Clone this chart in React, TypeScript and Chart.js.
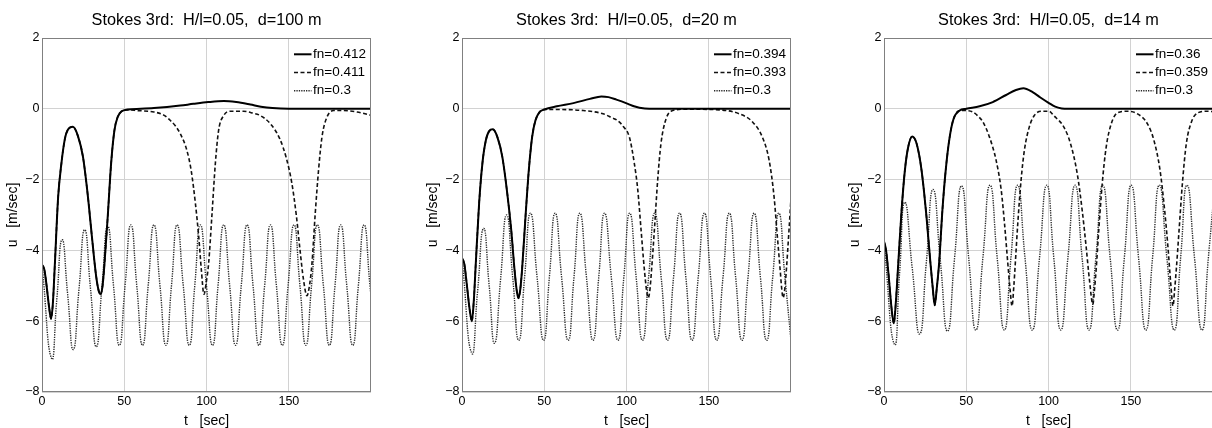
import React, { useEffect, useRef } from "react";
import { Chart, registerables } from "chart.js";

Chart.register(...registerables);

type Pt = [number, number];

const FONT = "'Liberation Sans', Arial, Helvetica, sans-serif";

const xTicks = [0, 50, 100, 150];
const yTicks = [-8, -6, -4, -2, 0, 2];
const xLabel = "t   [sec]";
const yLabel = "u   [m/sec]";

const titleD100 = "Stokes 3rd:  H/l=0.05,  d=100 m";
const titleD20 = "Stokes 3rd:  H/l=0.05,  d=20 m";
const titleD14 = "Stokes 3rd:  H/l=0.05,  d=14 m";

const labelsD100 = ["fn=0.412", "fn=0.411", "fn=0.3"];
const labelsD20 = ["fn=0.394", "fn=0.393", "fn=0.3"];
const labelsD14 = ["fn=0.36", "fn=0.359", "fn=0.3"];

// ---------- d = 100 m ----------
const d100Solid: Pt[] = [
  [0, -4.4], [1.4, -4.54], [2.8, -5.0], [4.3, -5.6], [5.5, -5.93], [6.6, -5.5], [7.8, -4.4],
  [9.8, -2.5], [11.8, -1.54], [13.9, -0.85], [15.9, -0.58], [18.8, -0.51], [21.9, -0.78],
  [24.9, -1.36], [27.9, -2.48], [30.3, -3.6], [32.9, -4.73], [34.5, -5.15], [35.6, -5.23],
  [36.8, -5.0], [38.0, -4.35], [40.0, -3.0], [42.0, -1.54], [44.0, -0.61], [46.0, -0.23],
  [48.4, -0.07], [52, -0.02], [60, 0.0], [68, 0.02], [76, 0.05], [84, 0.09], [92, 0.14],
  [101, 0.19], [110.5, 0.22], [118, 0.19], [126.6, 0.12], [133, 0.06], [140, 0.02],
  [150, 0.0], [200, 0.0],
];
const d100Dashed: Pt[] = [
  [0, -4.4], [1.4, -4.54], [2.8, -5.0], [4.3, -5.6], [5.5, -5.93], [6.6, -5.5], [7.8, -4.4],
  [9.8, -2.5], [11.8, -1.54], [13.9, -0.85], [15.9, -0.58], [18.8, -0.51], [21.9, -0.78],
  [24.9, -1.36], [27.9, -2.48], [30.3, -3.6], [32.9, -4.73], [34.5, -5.15], [35.6, -5.23],
  [36.8, -5.0], [38.0, -4.35], [40.0, -3.0], [42.0, -1.54], [44.0, -0.61], [46.0, -0.23],
  [48.4, -0.07], [52, -0.03], [58, -0.05], [68, -0.09], [74, -0.18], [78, -0.33], [81, -0.48],
  [84, -0.7], [88, -1.17], [90.6, -1.73], [93.2, -2.67], [95.2, -3.6], [96.8, -4.54],
  [98.4, -5.24], [99.8, -4.9], [101.2, -4.39], [103.3, -2.97], [105.3, -1.56], [107.3, -0.61],
  [110.4, -0.19], [114.4, -0.07], [122.5, -0.07], [128, -0.12], [132.6, -0.19], [138.7, -0.42],
  [144.5, -0.85], [148.5, -1.4], [151.8, -2.1], [154.5, -3.0], [156.8, -4.0], [158.8, -4.8],
  [161.0, -5.28], [162.5, -5.0], [164.0, -4.39], [166.0, -2.97], [168.0, -1.75], [170.1, -0.8],
  [173.1, -0.24], [177.2, -0.05], [183.2, -0.05], [191.4, -0.09], [200.5, -0.19],
];
const d100Dotted: Pt[] = [
  [0, -4.4], [5.8, -7.05], [9.0, -5.38], [12.2, -3.7], [15.6, -5.25], [19.0, -6.8],
  [22.45, -5.11], [25.9, -3.42], [29.45, -5.07], [33.0, -6.72], [36.45, -5.02], [39.9, -3.32],
  [43.45, -5.0], [47.0, -6.68], [50.5, -4.98], [54.0, -3.28], [57.55, -4.98], [61.1, -6.68],
  [64.55, -4.98], [68.0, -3.28], [71.65, -4.98], [75.3, -6.68], [78.7, -4.98], [82.1, -3.28],
  [85.8, -4.98], [89.5, -6.68], [92.85, -4.98], [96.2, -3.28], [99.9, -4.98], [103.6, -6.68],
  [107.0, -4.98], [110.4, -3.28], [114.0, -4.98], [117.6, -6.68], [121.1, -4.98], [124.6, -3.28],
  [128.2, -4.98], [131.8, -6.68], [135.3, -4.98], [138.8, -3.28], [142.4, -4.98], [146.0, -6.68],
  [149.55, -4.98], [153.1, -3.28], [156.7, -4.98], [160.3, -6.68], [163.8, -4.98], [167.3, -3.28],
  [170.95, -4.98], [174.6, -6.68], [178.05, -4.98], [181.5, -3.28], [185.15, -4.98], [188.8, -6.68],
  [192.25, -4.98], [195.7, -3.28], [199.25, -4.98], [202.8, -6.68],
];

// ---------- d = 20 m ----------
const d20Solid: Pt[] = [
  [0, -4.22], [1.4, -4.38], [3.0, -5.0], [4.6, -5.65], [6.0, -6.0], [7.2, -5.4], [8.4, -4.35],
  [10.4, -2.67], [12.4, -1.54], [14.5, -0.89], [16.5, -0.63], [18.7, -0.58], [21.5, -0.8],
  [24.5, -1.36], [27.5, -2.39], [29.9, -3.42], [31.9, -4.54], [33.3, -5.15], [34.3, -5.35],
  [35.4, -5.1], [36.5, -4.54], [38.6, -3.04], [40.6, -1.73], [42.6, -0.8], [44.6, -0.33],
  [47.2, -0.09], [50, -0.02], [57.6, 0.07], [67.7, 0.16], [77.7, 0.28], [84.7, 0.35], [89, 0.33],
  [93.8, 0.26], [100.8, 0.14], [104.5, 0.07], [107.8, 0.03], [113.8, 0.0], [200, 0.0],
];
const d20Dashed: Pt[] = [
  [0, -4.22], [1.4, -4.38], [3.0, -5.0], [4.6, -5.65], [6.0, -6.0], [7.2, -5.4], [8.4, -4.35],
  [10.4, -2.67], [12.4, -1.54], [14.5, -0.89], [16.5, -0.63], [18.7, -0.58], [21.5, -0.8],
  [24.5, -1.36], [27.5, -2.39], [29.9, -3.42], [31.9, -4.54], [33.3, -5.15], [34.3, -5.35],
  [35.4, -5.1], [36.5, -4.54], [38.6, -3.04], [40.6, -1.73], [42.6, -0.8], [44.6, -0.33],
  [47.2, -0.09], [50, -0.02], [57.6, -0.02], [73.7, -0.05], [85.7, -0.14], [91, -0.25],
  [94.5, -0.33], [98, -0.5], [101.7, -0.8], [104.7, -1.54], [106.8, -2.29], [108.8, -3.42],
  [110.8, -4.54], [112.2, -5.15], [113.2, -5.34], [114.2, -5.1], [115.2, -4.54], [116.9, -3.42],
  [118.9, -2.01], [120.9, -0.98], [124.0, -0.28], [128.0, -0.05], [136.1, -0.01], [156.3, -0.03],
  [168.4, -0.14], [176.5, -0.37], [182.5, -0.8], [186.6, -1.45], [189.6, -2.48], [191.6, -3.6],
  [193.3, -4.54], [194.3, -5.1], [195.1, -5.34], [196.1, -5.1], [197.1, -4.54], [198.7, -3.42],
  [200.2, -2.3],
];
const d20Dotted: Pt[] = [
  [0, -4.22], [5.9, -6.9], [9.5, -5.14], [13.1, -3.38], [16.5, -4.99], [19.8, -6.62],
  [23.45, -4.81], [27.1, -3.0], [30.8, -4.76], [34.5, -6.54], [38.05, -4.75], [41.6, -2.95],
  [45.6, -4.75], [49.6, -6.54], [53.1, -4.75], [56.6, -2.95], [60.5, -4.75], [64.5, -6.54],
  [68.05, -4.75], [71.6, -2.95], [75.6, -4.75], [79.6, -6.54], [83.1, -4.75], [86.6, -2.95],
  [90.7, -4.75], [94.8, -6.54], [98.35, -4.75], [101.9, -2.95], [105.8, -4.75], [109.7, -6.54],
  [113.4, -4.75], [117.1, -2.95], [121.0, -4.75], [124.9, -6.54], [128.55, -4.75], [132.2, -2.95],
  [136.0, -4.75], [139.8, -6.54], [143.55, -4.75], [147.3, -2.95], [151.05, -4.75], [154.8, -6.54],
  [158.6, -4.75], [162.4, -2.95], [166.25, -4.75], [170.1, -6.54], [173.8, -4.75], [177.5, -2.95],
  [181.3, -4.75], [185.1, -6.54], [188.8, -4.75], [192.5, -2.95], [196.2, -4.75], [199.9, -6.54],
];

// ---------- d = 14 m ----------
const d14Solid: Pt[] = [
  [0, -3.75], [1.2, -3.98], [2.8, -4.7], [4.5, -5.6], [6.0, -6.06], [7.3, -5.4], [8.7, -4.35],
  [10.7, -2.86], [12.7, -1.73], [14.7, -1.08], [17.1, -0.78], [19.8, -0.98], [22.8, -1.73],
  [25.8, -3.04], [28.2, -4.35], [29.7, -5.1], [30.8, -5.55], [32.0, -5.1], [33.5, -4.35],
  [35.5, -2.86], [37.5, -1.73], [39.9, -0.8], [42.3, -0.28], [46.0, -0.05], [50, 0.0],
  [58.1, 0.07], [66.1, 0.19], [74.2, 0.39], [80.2, 0.53], [84.7, 0.58], [90.3, 0.47], [95, 0.32],
  [100, 0.17], [104, 0.06], [108, 0.01], [112, 0.0], [200, 0.0],
];
const d14Dashed: Pt[] = [
  [0, -3.75], [1.2, -3.98], [2.8, -4.7], [4.5, -5.6], [6.0, -6.06], [7.3, -5.4], [8.7, -4.35],
  [10.7, -2.86], [12.7, -1.73], [14.7, -1.08], [17.1, -0.78], [19.8, -0.98], [22.8, -1.73],
  [25.8, -3.04], [28.2, -4.35], [29.7, -5.1], [30.8, -5.55], [32.0, -5.1], [33.5, -4.35],
  [35.5, -2.86], [37.5, -1.73], [39.9, -0.8], [42.3, -0.28], [46.0, -0.05], [50, -0.05],
  [54, -0.09], [57, -0.2], [60.1, -0.37], [64.1, -0.8], [68.1, -1.45], [71.2, -2.29],
  [73.2, -3.23], [75.2, -4.35], [76.6, -5.1], [77.8, -5.57], [78.9, -5.0], [79.8, -4.35],
  [81.3, -3.23], [83.3, -2.01], [85.3, -1.17], [88.3, -0.51], [91.3, -0.19], [95.4, -0.07],
  [100.4, -0.07], [103.1, -0.19], [109.2, -0.51], [113.3, -0.98], [117.4, -1.83], [120.4, -2.86],
  [122.8, -3.89], [124.8, -4.82], [126.9, -5.52], [127.9, -5.1], [128.9, -4.54], [130.5, -3.42],
  [132.6, -2.11], [135.0, -1.08], [138.1, -0.42], [141.7, -0.12], [147.8, -0.07], [153.9, -0.14],
  [160.0, -0.42], [164.0, -0.89], [167.7, -1.73], [170.5, -2.86], [172.5, -3.89], [174.2, -4.92],
  [175.6, -5.57], [176.6, -5.1], [177.6, -4.54], [179.3, -3.42], [181.3, -2.11], [183.7, -0.98],
  [186.8, -0.37], [190.4, -0.12], [196.5, -0.07], [200, -0.08],
];
const d14Dotted: Pt[] = [
  [0, -3.79], [6.3, -6.65], [9.45, -4.65], [12.6, -2.64], [17.15, -4.5], [21.7, -6.36],
  [25.75, -4.32], [29.8, -2.28], [34.2, -4.28], [38.6, -6.28], [42.85, -4.23], [47.1, -2.18],
  [51.45, -4.21], [55.8, -6.25], [60.1, -4.2], [64.4, -2.16], [68.75, -4.2], [73.1, -6.25],
  [77.15, -4.2], [81.2, -2.16], [85.65, -4.2], [90.1, -6.25], [94.5, -4.2], [98.9, -2.16],
  [103.15, -4.2], [107.4, -6.25], [111.75, -4.2], [116.1, -2.16], [120.35, -4.2], [124.6, -6.25],
  [128.75, -4.2], [132.9, -2.16], [137.4, -4.2], [141.9, -6.25], [146.05, -4.2], [150.2, -2.16],
  [154.65, -4.2], [159.1, -6.25], [163.2, -4.2], [167.3, -2.16], [171.85, -4.2], [176.4, -6.25],
  [180.25, -4.2], [184.1, -2.16], [188.65, -4.2], [193.2, -6.25], [197.1, -4.2], [201.0, -2.16],
];

const fmtTick = (v: number) => (v < 0 ? "\u2212" + Math.abs(v) : String(v));

const decorPlugin = {
  id: "decor",
  afterDraw(chart: any) {
    const { ctx, chartArea: a } = chart;
    const title = chart.options.plugins.decor.title as string;
    ctx.save();
    ctx.setLineDash([]);
    ctx.strokeStyle = "#808080";
    ctx.lineWidth = 1;
    const l = Math.round(a.left) + 0.5;
    const r = Math.round(a.right) - 0.5;
    const t = Math.round(a.top) + 0.5;
    const b = Math.round(a.bottom) - 0.5;
    ctx.strokeRect(l, t, r - l, b - t);

    ctx.fillStyle = "#000";
    ctx.font = `16.3px ${FONT}`;
    ctx.textAlign = "center";
    ctx.textBaseline = "middle";
    ctx.fillText(title, (a.left + a.right) / 2, 20.7);

    ctx.font = `13.5px ${FONT}`;
    ctx.textAlign = "left";
    chart.data.datasets.forEach((ds: any, i: number) => {
      const y = a.top + 16.3 + i * 18.2;
      ctx.strokeStyle = ds.borderColor;
      ctx.lineWidth = ds.borderWidth;
      ctx.setLineDash(ds.borderDash || []);
      ctx.beginPath();
      ctx.moveTo(a.right - 77, y);
      ctx.lineTo(a.right - 59.5, y);
      ctx.stroke();
      ctx.setLineDash([]);
      ctx.fillStyle = "#000";
      ctx.fillText(ds.label, a.right - 58, y);
    });
    ctx.restore();
  },
};

interface PanelProps {
  left: number;
  title: string;
  labels: string[];
  series: Pt[][];
}

function Panel({ left, title, labels, series }: PanelProps) {
  const ref = useRef<HTMLCanvasElement>(null);
  useEffect(() => {
    const toXY = (pts: Pt[]) => pts.map(([x, y]) => ({ x, y }));
    const tickFont = { family: FONT, size: 12.5 };
    const axisFont = { family: FONT, size: 14 };
    const chart = new Chart(ref.current as HTMLCanvasElement, {
      type: "line",
      data: {
        datasets: [
          {
            label: labels[0],
            data: toXY(series[0]),
            borderColor: "#000000",
            borderWidth: 2,
            borderDash: [],
            pointRadius: 0,
            fill: false,
            tension: 0.4,
            cubicInterpolationMode: "monotone",
          },
          {
            label: labels[1],
            data: toXY(series[1]),
            borderColor: "#111111",
            borderWidth: 1.6,
            borderDash: [4, 2.5],
            pointRadius: 0,
            fill: false,
            tension: 0.4,
            cubicInterpolationMode: "monotone",
          },
          {
            label: labels[2],
            data: toXY(series[2]),
            borderColor: "#2a2a2a",
            borderWidth: 1.4,
            borderDash: [1.3, 1.1],
            pointRadius: 0,
            fill: false,
            tension: 0.55,
          },
        ] as any,
      },
      options: {
        animation: false,
        responsive: false,
        maintainAspectRatio: false,
        events: [],
        layout: { padding: { left: 0, right: 42, top: 38, bottom: 0 } },
        scales: {
          x: {
            type: "linear",
            min: 0,
            max: 199.9,
            afterBuildTicks: (s: any) => {
              s.ticks = xTicks.map((value) => ({ value }));
            },
            afterFit: (s: any) => {
              s.height = 36;
            },
            grid: { color: "#d2d2d2", drawTicks: false, lineWidth: 1 },
            border: { display: false },
            ticks: {
              padding: 2,
              color: "#000",
              font: tickFont,
              maxRotation: 0,
              autoSkip: false,
              callback: (v: any) => fmtTick(Number(v)),
            },
            title: {
              display: true,
              text: xLabel,
              color: "#000",
              font: axisFont,
              padding: { top: 0, bottom: -2 },
            },
          },
          y: {
            type: "linear",
            min: -8,
            max: 2,
            afterBuildTicks: (s: any) => {
              s.ticks = yTicks.map((value) => ({ value }));
            },
            afterFit: (s: any) => {
              s.width = 42;
            },
            grid: { color: "#d2d2d2", drawTicks: false, lineWidth: 1 },
            border: { display: false },
            ticks: {
              padding: 2.5,
              color: "#000",
              font: tickFont,
              autoSkip: false,
              callback: (v: any) => fmtTick(Number(v)),
            },
            title: {
              display: true,
              text: yLabel,
              color: "#000",
              font: axisFont,
              padding: { top: 5, bottom: 0 },
            },
          },
        },
        plugins: {
          legend: { display: false },
          tooltip: { enabled: false },
          title: { display: false },
          decor: { title },
        } as any,
      },
      plugins: [decorPlugin],
    });
    return () => chart.destroy();
  }, []);
  return (
    <canvas
      ref={ref}
      width={413}
      height={428}
      style={{ position: "absolute", left, top: 0, width: 413, height: 428 }}
    />
  );
}

export default function App() {
  return (
    <div
      style={{
        position: "fixed",
        left: 0,
        top: 0,
        width: 1212,
        height: 428,
        overflow: "hidden",
        background: "#fff",
      }}
    >
      <Panel left={0} title={titleD100} labels={labelsD100} series={[d100Solid, d100Dashed, d100Dotted]} />
      <Panel left={420} title={titleD20} labels={labelsD20} series={[d20Solid, d20Dashed, d20Dotted]} />
      <Panel left={842} title={titleD14} labels={labelsD14} series={[d14Solid, d14Dashed, d14Dotted]} />
    </div>
  );
}
